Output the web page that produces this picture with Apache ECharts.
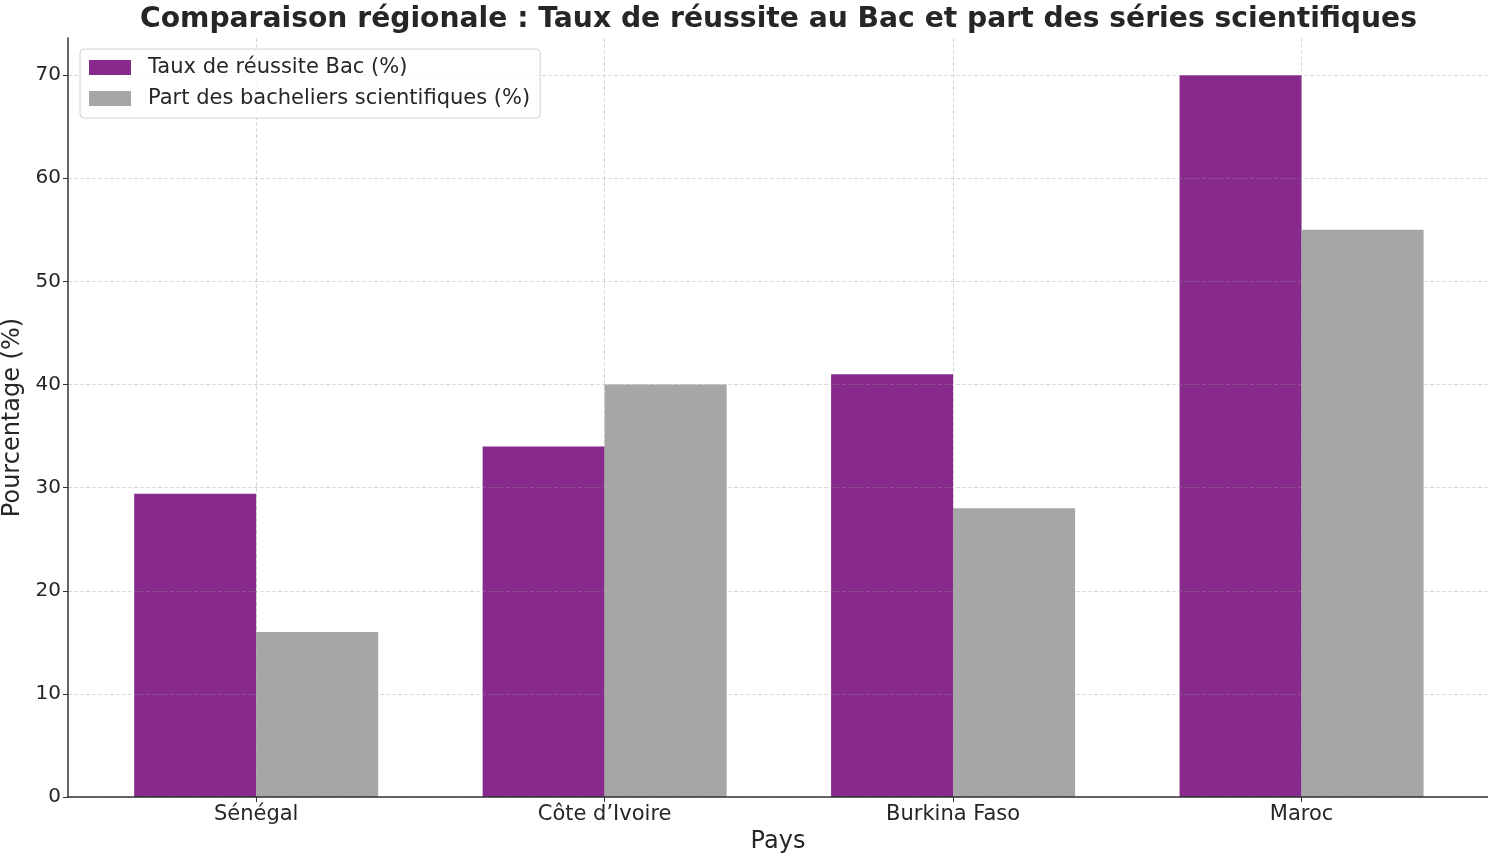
<!DOCTYPE html>
<html>
<head>
<meta charset="utf-8">
<title>Comparaison régionale</title>
<script src="https://cdn.jsdelivr.net/npm/echarts@6/dist/echarts.min.js"></script>
<style>
  html, body { margin: 0; padding: 0; background: #fff; }
  #chart { width: 1488px; height: 856px; }
</style>
</head>
<body>
<div id="chart"></div>
<script>
// données
var pays = ['Sénégal', 'Côte d\u2019Ivoire', 'Burkina Faso', 'Maroc'];
var tauxReussite = [29.4, 34, 41, 70];
var partScientifiques = [16, 40, 28, 55];
var yTicks = [0, 10, 20, 30, 40, 50, 60, 70];

(function() {
  var myChart = echarts.init(document.getElementById('chart'));
  var font = 'DejaVu Sans';
  var textColor = '#262626';
  var gridColor = 'rgba(150, 150, 150, 0.35)';

  // chaque barre placée sur l'index du pays
  function toPairs(arr) {
    return arr.map(function(v, i) { return [i, v]; });
  }
  var positions = pays.map(function(p, i) { return i; });

  var option = {
    animation: false,
    textStyle: { fontFamily: font },
    title: {
      text: 'Comparaison régionale : Taux de réussite au Bac et part des séries scientifiques',
      left: 135,
      top: 1,
      textStyle: { fontFamily: font, fontSize: 28.2, fontWeight: 'bold', color: textColor }
    },
    legend: {
      orient: 'vertical',
      left: 80,
      top: 49,
      padding: [7, 10, 8, 9],
      itemGap: 8,
      itemWidth: 42,
      itemHeight: 15,
      icon: 'rect',
      borderColor: '#d0d0d0',
      borderWidth: 1,
      borderRadius: 4,
      backgroundColor: 'rgba(255,255,255,0.8)',
      textStyle: { fontFamily: font, fontSize: 21, color: textColor, lineHeight: 23, padding: [0, 0, 0, 12] },
      data: ['Taux de réussite Bac (%)', 'Part des bacheliers scientifiques (%)']
    },
    grid: { left: 68, right: 0, top: 38, bottom: 59, outerBoundsMode: 'none' },
    xAxis: {
      type: 'value',
      min: -0.54,
      max: 3.535,
      z: 3,
      name: 'Pays',
      nameLocation: 'middle',
      nameGap: 33,
      nameTextStyle: { fontFamily: font, fontSize: 24, color: textColor },
      axisLine: { show: true, onZero: false, lineStyle: { color: '#333', width: 1.5 } },
      axisTick: { show: true, customValues: positions, length: 5, lineStyle: { color: '#333' } },
      axisLabel: {
        customValues: positions,
        margin: 7,
        fontFamily: font,
        fontSize: 21,
        color: textColor,
        formatter: function(v) { return pays[Math.round(v)]; }
      },
      splitLine: { show: true, lineStyle: { color: gridColor, type: 'dashed', width: 1 } }
    },
    yAxis: {
      type: 'value',
      min: 0,
      max: 73.6,
      interval: 10,
      z: 3,
      name: 'Pourcentage (%)',
      nameLocation: 'middle',
      nameRotate: 90,
      nameGap: 40,
      nameTextStyle: { fontFamily: font, fontSize: 24, color: textColor },
      axisLine: { show: true, onZero: false, lineStyle: { color: '#333', width: 1.5 } },
      axisTick: { show: true, customValues: yTicks, length: 5, lineStyle: { color: '#333' } },
      axisLabel: {
        margin: 7,
        fontFamily: font,
        fontSize: 20,
        color: textColor,
        customValues: yTicks
      },
      splitLine: { show: true, lineStyle: { color: gridColor, type: 'dashed', width: 1 } }
    },
    series: [
      {
        name: 'Taux de réussite Bac (%)',
        type: 'bar',
        data: toPairs(tauxReussite),
        barWidth: 122,
        barGap: '0%',
        itemStyle: { color: '#882a8c' }
      },
      {
        name: 'Part des bacheliers scientifiques (%)',
        type: 'bar',
        data: toPairs(partScientifiques),
        barWidth: 122,
        barGap: '0%',
        itemStyle: { color: '#a6a6a6' }
      }
    ]
  };
  myChart.setOption(option);
  window.addEventListener('resize', function() {
    myChart.resize();
  });
})();
</script>
</body>
</html>
